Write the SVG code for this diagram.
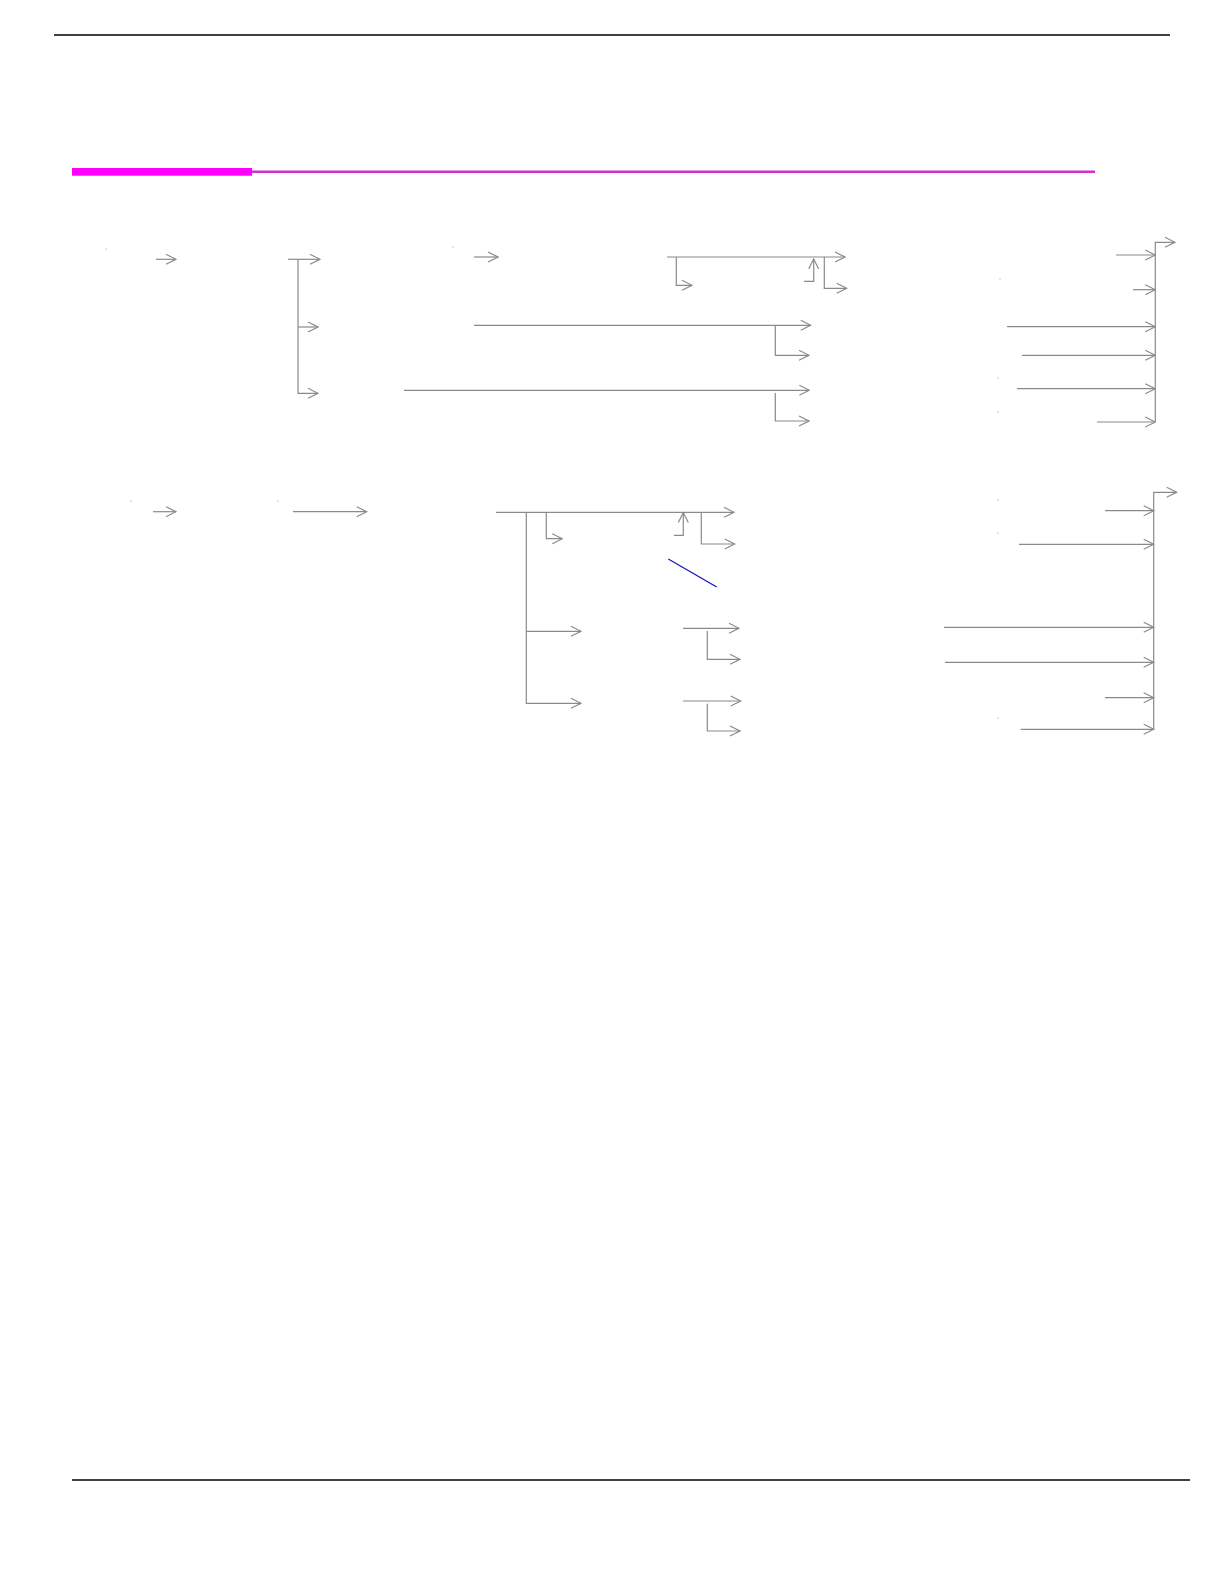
<svg xmlns="http://www.w3.org/2000/svg" width="1224" height="1582" viewBox="0 0 1224 1582">
<style>
.c{fill:none;stroke:#8a8a8a;stroke-width:1.2}
.a{marker-end:url(#ah)}
.d{fill:#8a8a8a}
</style>
<defs>
<marker id="ah" markerUnits="userSpaceOnUse" viewBox="0 0 12 12" refX="11" refY="6" markerWidth="12" markerHeight="12" orient="auto">
<path d="M1,1 L11,6 L1,11" fill="none" stroke="#8a8a8a" stroke-width="1.2"/>
</marker>
</defs>
<rect width="1224" height="1582" fill="#ffffff"/>
<g id="frame">
<line x1="54" y1="35" x2="1170" y2="35" stroke="#000" stroke-width="1.3"/>
<line x1="72" y1="1480" x2="1190" y2="1480" stroke="#000" stroke-width="1.3"/>
<line x1="252" y1="171.8" x2="1095" y2="171.8" stroke="#d030d0" stroke-width="2.5"/>
<rect x="72" y="168" width="180" height="7.7" fill="#ff00ff"/>
</g>
<g id="nodes">
<g id="n1"><circle class="d" cx="106" cy="249" r="0.6"/></g>
<g id="n2"><circle class="d" cx="453" cy="247" r="0.6"/></g>
<g id="n3"><circle class="d" cx="1000" cy="279" r="0.6"/></g>
<g id="n4"><circle class="d" cx="998" cy="378" r="0.6"/></g>
<g id="n5"><circle class="d" cx="998" cy="412" r="0.6"/></g>
<g id="n6"><circle class="d" cx="131" cy="501" r="0.6"/></g>
<g id="n7"><circle class="d" cx="278" cy="501" r="0.6"/></g>
<g id="n8"><circle class="d" cx="998" cy="500" r="0.6"/></g>
<g id="n9"><circle class="d" cx="998" cy="533" r="0.6"/></g>
<g id="n10"><circle class="d" cx="998" cy="718" r="0.6"/></g>
</g>
<g id="connectors">
<path class="c a" d="M156,259.3 H176"/>
<path class="c a" d="M288,259.3 H320"/>
<path class="c a" d="M298,259.3 V393.3 H318"/>
<path class="c a" d="M298,327 H318"/>
<path class="c a" d="M474,257 H498"/>
<path class="c a" d="M667,257 H845"/>
<path class="c a" d="M676.3,257 V285.3 H692"/>
<path class="c a" d="M804,281.3 H813.7 V259"/>
<path class="c a" d="M824.3,257 V288.3 H846.7"/>
<path class="c a" d="M474,325.3 H810.7"/>
<path class="c a" d="M775.3,325.3 V355.3 H809"/>
<path class="c a" d="M404,390.3 H809.3"/>
<path class="c a" d="M775.3,393 V421 H809"/>
<path class="c a" d="M1155.3,422 V242.3 H1175"/>
<path class="c a" d="M1116,255 H1155.3"/>
<path class="c a" d="M1133,289.7 H1155.3"/>
<path class="c a" d="M1007,326.7 H1155.3"/>
<path class="c a" d="M1022,355.3 H1155.3"/>
<path class="c a" d="M1017,388.7 H1155.3"/>
<path class="c a" d="M1097,422 H1155.3"/>
<path class="c a" d="M153,511.7 H176"/>
<path class="c a" d="M293,511.7 H366.7"/>
<path class="c a" d="M496,512.3 H734"/>
<path class="c a" d="M526.3,512.3 V703.3 H581"/>
<path class="c a" d="M526.3,631.3 H581"/>
<path class="c a" d="M546.3,512.3 V538.7 H562.3"/>
<path class="c a" d="M674,535.3 H683.3 V512.5"/>
<path class="c a" d="M701.3,512.3 V544 H734.7"/>
<path d="M668.3,559 L716.7,587" fill="none" stroke="#1010c0" stroke-width="1.2"/>
<path class="c a" d="M683,628.3 H739"/>
<path class="c a" d="M707.3,631 V659.3 H740"/>
<path class="c a" d="M683,701 H740.7"/>
<path class="c a" d="M707.3,703.7 V731 H740"/>
<path class="c a" d="M1153.7,729.3 V492.3 H1176.7"/>
<path class="c a" d="M1105,510.7 H1153.7"/>
<path class="c a" d="M1019,544.3 H1153.7"/>
<path class="c a" d="M944,627.3 H1153.7"/>
<path class="c a" d="M945,662.3 H1153.7"/>
<path class="c a" d="M1105,697.7 H1153.7"/>
<path class="c a" d="M1020.7,729.3 H1153.7"/>
</g>
</svg>
